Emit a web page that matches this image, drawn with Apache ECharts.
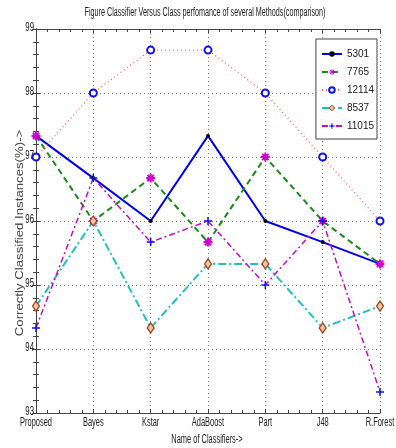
<!DOCTYPE html>
<html><head><meta charset="utf-8">
<script src="https://cdn.jsdelivr.net/npm/echarts@6/dist/echarts.min.js"></script>
<style>html,body{margin:0;padding:0;background:#fff}#c{width:396px;height:448px}</style>
</head><body><div id="c"></div>
<script>
const categories = ['Proposed','Bayes','Kstar','AdaBoost','Part','J48','R.Forest'];
const seriesNames = ['5301','7765','12114','8537','11015'];
const s5301  = [97.33, 96.67, 96.00, 97.33, 96.00, 95.67, 95.33];
const s7765  = [97.33, 96.00, 96.67, 95.67, 97.00, 96.00, 95.33];
const s12114 = [97.00, 98.00, 98.67, 98.67, 98.00, 97.00, 96.00];
const s8537  = [94.67, 96.00, 94.33, 95.33, 95.33, 94.33, 94.67];
const s11015 = [94.33, 96.67, 95.67, 96.00, 95.00, 96.00, 93.33];
const yTickLabels = [93, 94, 95, 96, 97, 98, 99];
const yMin = 93, yMax = 99;
const titleText = 'Figure Classifier Versus Class perfomance of several Methods(comparison)';
const xName = 'Name of Classifiers->';
const yName = 'Correctly Classified Instances(%)->';

const SANS = '"Liberation Sans", Arial, sans-serif';
const pts = arr => arr.map((v, i) => [i, v]);
const ASTER = 'path://M0,-10L0,10M-10,0L10,0M-7,-7L7,7M-7,7L7,-7';
const PLUS = 'path://M0,-10L0,10M-10,0L10,0';

const chart = echarts.init(document.getElementById('c'), null, {renderer: 'canvas'});
const axisLine = {show: true, lineStyle: {color: '#444', width: 1}};
const baseX = {
  type: 'value', min: 0, max: categories.length - 1, interval: 1,
  axisLine: axisLine, axisLabel: {show: false},
  axisTick: {show: true, inside: true, length: 4, lineStyle: {color: '#444'}},
  minorTick: {show: true, splitNumber: 5, length: 3, lineStyle: {color: '#444'}},
};
const baseY = {
  type: 'value', min: yMin, max: yMax, interval: 1,
  axisLine: axisLine, axisLabel: {show: false},
  axisTick: {show: true, inside: true, length: 4, lineStyle: {color: '#444'}},
  minorTick: {show: true, splitNumber: 5, length: 3, lineStyle: {color: '#444'}},
};
const gridLine = {show: true, lineStyle: {type: [1, 3], color: '#777'}};

chart.setOption({
  animation: false,
  backgroundColor: '#fff',
  grid: {left: 36, right: 16, top: 29, bottom: 35, containLabel: false},
  xAxis: [
    Object.assign({}, baseX, {position: 'bottom', splitLine: gridLine}),
    Object.assign({}, baseX, {position: 'top', splitLine: {show: false}})
  ],
  yAxis: [
    Object.assign({}, baseY, {position: 'left', splitLine: gridLine}),
    Object.assign({}, baseY, {position: 'right', splitLine: {show: false}})
  ],
  legend: {
    orient: 'vertical', right: 19, top: 39,
    data: seriesNames.map(n => ({name: n, itemStyle: {borderWidth: 1}})),
    backgroundColor: '#fff', borderColor: '#444', borderWidth: 1, borderRadius: 0,
    padding: [9, 3, 7, 5], itemGap: 6, itemWidth: 20, itemHeight: 7,
    textStyle: {fontFamily: SANS, fontSize: 10, color: '#222', lineHeight: 12}
  },
  graphic: [
    {type: 'text', x: 205, y: 13, scaleX: 0.6, style: {text: titleText, font: '12px ' + SANS, fill: '#222', textAlign: 'center', textVerticalAlign: 'middle'}},
    {type: 'text', x: 207, y: 440, scaleX: 0.62, style: {text: xName, font: '12px ' + SANS, fill: '#222', textAlign: 'center', textVerticalAlign: 'middle'}},
    {type: 'text', x: 20, y: 233, rotation: Math.PI / 2, scaleX: 1.32, style: {text: yName, font: '10px ' + SANS, fill: '#444', textAlign: 'center', textVerticalAlign: 'middle'}}
  ],
  series: [
    {name: '5301', type: 'line', data: pts(s5301), symbol: 'circle', symbolSize: 4,
      lineStyle: {color: '#0000ee', width: 2, type: 'solid'},
      itemStyle: {color: '#000'}},
    {name: '7765', type: 'line', data: pts(s7765), symbol: ASTER, symbolSize: 9,
      lineStyle: {color: '#1a8a1a', width: 2, type: [6, 4]},
      itemStyle: {color: '#d000d0', borderColor: '#d000d0', borderWidth: 2}},
    {name: '12114', type: 'line', data: pts(s12114), symbol: 'emptyCircle', symbolSize: 7,
      lineStyle: {color: '#ff5050', width: 1.2, type: [1, 3]},
      itemStyle: {color: '#1010ee', borderColor: '#1010ee', borderWidth: 1.5}},
    {name: '8537', type: 'line', data: pts(s8537), symbol: 'diamond', symbolSize: [7, 10],
      lineStyle: {color: '#20c0c0', width: 2, type: [8, 3, 2, 3]},
      itemStyle: {color: '#f0c8a0', borderColor: '#a0401a', borderWidth: 1.2}},
    {name: '11015', type: 'line', data: pts(s11015), symbol: PLUS, symbolSize: 8,
      lineStyle: {color: '#c010c0', width: 1.5, type: [6, 3, 2, 3]},
      itemStyle: {color: '#1010ee', borderColor: '#1010ee', borderWidth: 1.5}},
    {name: 'xTickLabels', type: 'custom', silent: true, clip: false, z: 5,
      data: categories.map((c, i) => [i, yMin]),
      renderItem: (params, api) => {
        const p = api.coord([api.value(0), api.value(1)]);
        return {type: 'text', x: p[0], y: p[1] + 4, scaleX: 0.62,
          style: {text: categories[params.dataIndex], font: '12px ' + SANS, fill: '#222', textAlign: 'center', textVerticalAlign: 'top'}};
      }},
    {name: 'yTickLabels', type: 'custom', silent: true, clip: false, z: 5,
      data: yTickLabels.map(v => [0, v]),
      renderItem: (params, api) => {
        const p = api.coord([api.value(0), api.value(1)]);
        return {type: 'text', x: p[0] - 2, y: p[1] - 1, scaleX: 0.65,
          style: {text: String(yTickLabels[params.dataIndex]), font: '12px ' + SANS, fill: '#222', textAlign: 'right', textVerticalAlign: 'middle'}};
      }}
  ]
});
</script></body></html>
